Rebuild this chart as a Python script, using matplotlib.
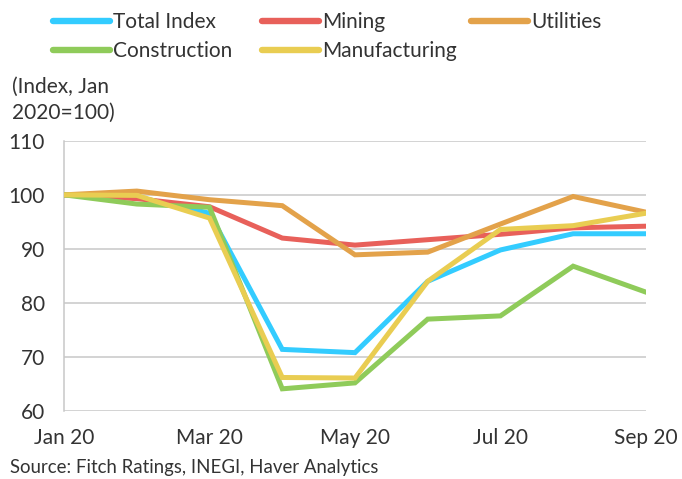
import matplotlib.pyplot as plt
import numpy as np

plt.rcParams['font.family'] = ['Lato', 'DejaVu Sans']

months = ['Jan 20', 'Feb 20', 'Mar 20', 'Apr 20', 'May 20', 'Jun 20', 'Jul 20', 'Aug 20', 'Sep 20']
total = [100, 99.6, 96.6, 71.4, 70.8, 84.0, 89.8, 92.8, 92.8]
mining = [100, 99.3, 97.8, 92.0, 90.7, 91.7, 92.7, 93.9, 94.2]
utilities = [100, 100.7, 99.1, 98.0, 88.9, 89.4, 94.6, 99.7, 96.8]
construction = [100, 98.3, 97.7, 64.1, 65.2, 77.0, 77.6, 86.8, 82.0]
manufacturing = [100, 99.9, 95.7, 66.2, 66.1, 84.0, 93.6, 94.3, 96.6]

series = [
    ('Total Index', total, '#33CCFF'),
    ('Mining', mining, '#E8605A'),
    ('Utilities', utilities, '#E3A24A'),
    ('Construction', construction, '#8FCB5A'),
    ('Manufacturing', manufacturing, '#E9CD52'),
]

W, H = 682, 479
fig = plt.figure(figsize=(W / 100, H / 100), dpi=100)
ax = fig.add_axes([0.094, 0.142, 0.853, 0.564])

x = np.arange(len(months))
lines = {}
for name, vals, col in series:
    lines[name], = ax.plot(x, vals, color=col, lw=3.6, solid_joinstyle='miter', zorder=3)

ax.set_xlim(0, len(months) - 1)
ax.set_ylim(60, 110)
ax.set_yticks(np.arange(60, 111, 10))
ax.set_xticks(x[::2])
ax.set_xticklabels(months[::2])
ax.yaxis.grid(True, color='#C8C8C8', lw=1.1)
ax.set_axisbelow(True)
for s in ['top', 'right', 'bottom']:
    ax.spines[s].set_visible(False)
ax.spines['left'].set_color('#C8C8C8')
ax.spines['left'].set_linewidth(1.1)
ax.tick_params(length=0, labelsize=15, colors='#333333')
ax.tick_params(axis='x', pad=12)
ax.tick_params(axis='y', pad=14)

# legend laid out as three fixed-width columns
columns = [['Total Index', 'Construction'], ['Mining', 'Manufacturing'], ['Utilities']]
col_x = [53, 262, 471]
for names, cx in zip(columns, col_x):
    leg = fig.legend([lines[n] for n in names], names, loc='upper left',
                     bbox_to_anchor=(cx / W, 1 - 12 / H), frameon=False, fontsize=15,
                     handlelength=2.75, handletextpad=0.15, borderpad=0, borderaxespad=0,
                     labelspacing=0.45, labelcolor='#333333')
    for h in leg.legend_handles:
        h.set_solid_capstyle('round')
        h.set_linewidth(4.6)

fig.text(12 / W, 1 - 100 / H, '(Index, Jan\n2020=100)', fontsize=15, color='#333333',
         va='center', linespacing=1.35)
fig.text(10 / W, 1 - 467 / H, 'Source: Fitch Ratings, INEGI, Haver Analytics', fontsize=13.4,
         color='#333333', va='center')

fig.savefig('out.png', dpi=100)
